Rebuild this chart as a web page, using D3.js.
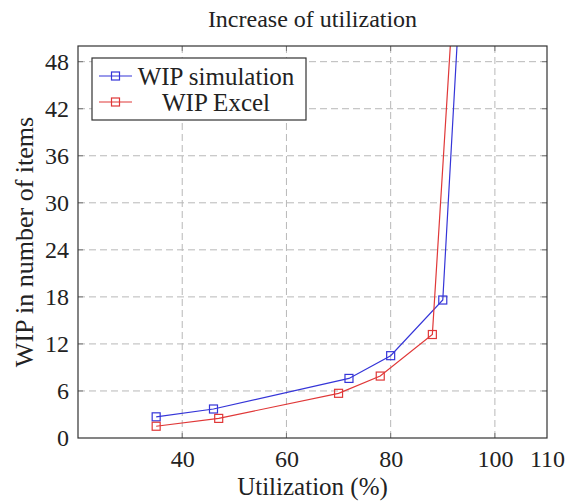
<!DOCTYPE html>
<html>
<head>
<meta charset="utf-8">
<script src="https://cdn.jsdelivr.net/npm/d3@7"></script>
<style>
  body { margin: 0; background: #fff; }
  text { font-family: "Liberation Serif", "DejaVu Serif", serif; fill: #222; }
</style>
</head>
<body>
<div class="chart"></div>
<script>
// values
const simX = [35, 46, 72, 80, 90, 95];
const simY = [2.7, 3.7, 7.6, 10.5, 17.6, 77];
const excelX = [35, 47, 70, 78, 88, 95];
const excelY = [1.5, 2.5, 5.7, 7.9, 13.2, 88];
const xTicks = [40, 60, 80, 100, 110];
const yTicks = [0, 6, 12, 18, 24, 30, 36, 42, 48];
const seriesNames = ['WIP simulation', 'WIP Excel'];
const seriesColors = ['#3535d8', '#e03838'];

const dims = { width: 571, height: 503 };
const margin = { top: 46, right: 24, bottom: 65, left: 78 };
const w = dims.width - margin.left - margin.right;
const h = dims.height - margin.top - margin.bottom;

const svg = d3.select('.chart')
  .append('svg')
  .attr('width', dims.width)
  .attr('height', dims.height);

const graph = svg.append('g')
  .attr('transform', `translate(${margin.left}, ${margin.top})`);

const x = d3.scaleLinear().domain([20, 110]).range([0, w]);
const y = d3.scaleLinear().domain([0, 50]).range([h, 0]);

// grid
graph.selectAll('.vgrid')
  .data(xTicks.filter(d => d < 110))
  .enter().append('line')
  .attr('x1', d => x(d)).attr('x2', d => x(d))
  .attr('y1', 0).attr('y2', h)
  .attr('stroke', '#b8b8b8')
  .attr('stroke-dasharray', '7,4');

graph.selectAll('.hgrid')
  .data(yTicks.filter(d => d > 0))
  .enter().append('line')
  .attr('x1', 0).attr('x2', w)
  .attr('y1', d => y(d)).attr('y2', d => y(d))
  .attr('stroke', '#b8b8b8')
  .attr('stroke-dasharray', '7,4');

// axes
const xAxis = d3.axisBottom(x).tickValues(xTicks).tickSize(0).tickPadding(12);
const yAxis = d3.axisLeft(y).tickValues(yTicks).tickSize(0).tickPadding(9);

const gx = graph.append('g').attr('transform', `translate(0, ${h})`).call(xAxis);
const gy = graph.append('g').call(yAxis);
[gx, gy].forEach(g => {
  g.select('.domain').remove();
  g.selectAll('text')
    .style('font-family', '"Liberation Serif", serif')
    .style('font-size', '24px')
    .attr('fill', '#222');
});

// small inner ticks on all sides
const tickLen = 5;
xTicks.filter(d => d < 110).forEach(d => {
  graph.append('line').attr('x1', x(d)).attr('x2', x(d)).attr('y1', h).attr('y2', h - tickLen).attr('stroke', '#777');
  graph.append('line').attr('x1', x(d)).attr('x2', x(d)).attr('y1', 0).attr('y2', tickLen).attr('stroke', '#777');
});
yTicks.filter(d => d > 0).forEach(d => {
  graph.append('line').attr('x1', 0).attr('x2', tickLen).attr('y1', y(d)).attr('y2', y(d)).attr('stroke', '#777');
  graph.append('line').attr('x1', w).attr('x2', w - tickLen).attr('y1', y(d)).attr('y2', y(d)).attr('stroke', '#777');
});

// clip for lines
svg.append('defs').append('clipPath').attr('id', 'clip')
  .append('rect').attr('width', w).attr('height', h);

const series = [
  { name: seriesNames[0], color: seriesColors[0], pts: simX.map((v, i) => [v, simY[i]]) },
  { name: seriesNames[1], color: seriesColors[1], pts: excelX.map((v, i) => [v, excelY[i]]) }
];

const line = d3.line().x(d => x(d[0])).y(d => y(d[1]));
const plot = graph.append('g').attr('clip-path', 'url(#clip)');
const ms = 8;

series.forEach(s => {
  plot.append('path')
    .attr('d', line(s.pts))
    .attr('fill', 'none')
    .attr('stroke', s.color)
    .attr('stroke-width', 1.2);
  plot.selectAll(null)
    .data(s.pts)
    .enter().append('rect')
    .attr('x', d => x(d[0]) - ms / 2)
    .attr('y', d => y(d[1]) - ms / 2)
    .attr('width', ms).attr('height', ms)
    .attr('fill', 'none')
    .attr('stroke', s.color)
    .attr('stroke-width', 1.2);
});

// frame
graph.append('rect')
  .attr('width', w).attr('height', h)
  .attr('fill', 'none')
  .attr('stroke', '#333')
  .attr('stroke-width', 1.2);

// legend
const lg = graph.append('g').attr('transform', `translate(${92 - margin.left}, ${58 - margin.top})`);
lg.append('rect')
  .attr('width', 214).attr('height', 62)
  .attr('fill', '#fff').attr('stroke', '#333').attr('stroke-width', 1.2);
series.forEach((s, i) => {
  const cy = 18 + i * 26;
  lg.append('line').attr('x1', 7).attr('x2', 40).attr('y1', cy).attr('y2', cy)
    .attr('stroke', s.color).attr('stroke-width', 1.2);
  lg.append('rect').attr('x', 23.5 - ms / 2).attr('y', cy - ms / 2)
    .attr('width', ms).attr('height', ms)
    .attr('fill', 'none').attr('stroke', s.color).attr('stroke-width', 1.2);
  lg.append('text')
    .attr('x', 124).attr('y', cy)
    .attr('dy', '0.35em')
    .attr('text-anchor', 'middle')
    .style('font-size', '25px')
    .text(s.name);
});

// title and labels
svg.append('text')
  .attr('x', margin.left + w / 2).attr('y', 27)
  .attr('text-anchor', 'middle')
  .style('font-size', '24px')
  .text('Increase of utilization');

svg.append('text')
  .attr('x', margin.left + w / 2).attr('y', 495)
  .attr('text-anchor', 'middle')
  .style('font-size', '25px')
  .text('Utilization (%)');

svg.append('text')
  .attr('transform', `translate(33, ${margin.top + h / 2}) rotate(-90)`)
  .attr('text-anchor', 'middle')
  .style('font-size', '26px')
  .text('WIP in number of items');
</script>
</body>
</html>
